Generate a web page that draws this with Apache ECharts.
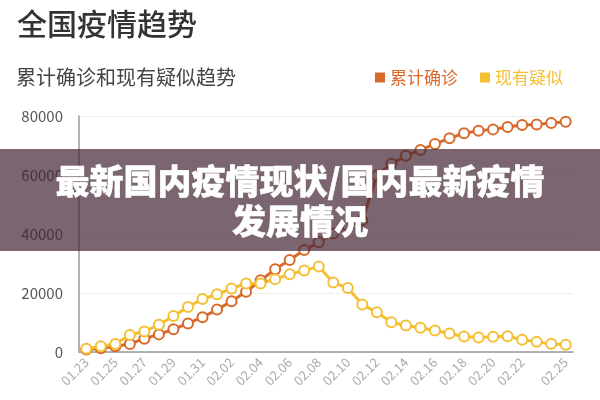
<!DOCTYPE html>
<html>
<head>
<meta charset="utf-8">
<script src="https://cdn.jsdelivr.net/npm/echarts@6/dist/echarts.min.js"></script>
<style>
  html, body { margin: 0; padding: 0; background: #fff; }
  #chart { width: 600px; height: 400px; }
</style>
</head>
<body>
<div id="chart"></div>
<script>
const dates = ['01.23','01.24','01.25','01.26','01.27','01.28','01.29','01.30','01.31',
  '02.01','02.02','02.03','02.04','02.05','02.06','02.07','02.08','02.09','02.10',
  '02.11','02.12','02.13','02.14','02.15','02.16','02.17','02.18','02.19','02.20',
  '02.21','02.22','02.23','02.24','02.25'];
// 累计确诊
const confirmed = [830,1287,1975,2744,4515,5974,7711,9692,11791,14380,17205,20438,
  24324,28018,31161,34546,37198,40171,42638,44653,59804,63851,66492,68500,70548,
  72436,74185,75002,75465,76288,76936,77150,77658,78064];
// 现有疑似
const suspected = [1072,1965,2684,5794,6973,9239,12167,15238,17988,19544,21558,23214,
  23260,24702,26359,27657,28942,23589,21675,16067,13435,10109,8969,8228,7264,6242,
  5248,4922,5206,5365,4148,3434,2824,2491];
const yTicks = [0, 20000, 40000, 60000, 80000];

const orange = '#d9692a';
const yellow = '#f4bf33';
const font = '"Noto Sans CJK SC", "Noto Sans", sans-serif';

const chart = echarts.init(document.getElementById('chart'));

const lineSeries = (name, data, color) => ({
  name,
  type: 'line',
  data,
  symbol: 'circle',
  symbolSize: 10,
  showSymbol: true,
  showAllSymbol: true,
  itemStyle: { color: '#fff', borderColor: color, borderWidth: 2 },
  lineStyle: { color, width: 3 },
  emphasis: { disabled: true }
});

chart.setOption({
  animation: false,
  textStyle: { fontFamily: font },
  title: [
    { text: '全国疫情趋势', left: 12, top: 4,
      textStyle: { fontSize: 30, fontWeight: 500, color: '#333', fontFamily: font } },
    { text: '累计确诊和现有疑似趋势', left: 11, top: 62,
      textStyle: { fontSize: 20, fontWeight: 400, color: '#444', fontFamily: font } }
  ],
  legend: {
    right: 32, top: 64,
    itemWidth: 10, itemHeight: 10, itemGap: 22,
    icon: 'rect',
    textStyle: { fontSize: 17, fontFamily: font },
    data: [
      { name: '累计确诊', itemStyle: { color: orange, borderWidth: 0 }, textStyle: { color: orange } },
      { name: '现有疑似', itemStyle: { color: yellow, borderWidth: 0 }, textStyle: { color: yellow } }
    ]
  },
  grid: { left: 79, right: 27, top: 116, bottom: 48 },
  xAxis: {
    type: 'category',
    data: dates,
    boundaryGap: true,
    axisLine: { lineStyle: { color: '#999', width: 1.5 } },
    axisTick: { show: false },
    axisLabel: {
      rotate: 45, color: '#aaa', fontSize: 13, margin: 8,
      interval: (i) => i === dates.length - 1 || (i % 2 === 0 && i < dates.length - 2)
    }
  },
  yAxis: {
    type: 'value',
    min: yTicks[0], max: yTicks[yTicks.length - 1], interval: 20000,
    axisLine: { show: true, lineStyle: { color: '#999', width: 1.5 } },
    axisTick: { show: false },
    axisLabel: { color: '#555', fontSize: 15, margin: 16, formatter: v => String(v) },
    splitLine: { lineStyle: { color: '#eee' } }
  },
  series: [
    lineSeries('累计确诊', confirmed, orange),
    lineSeries('现有疑似', suspected, yellow)
  ],
  graphic: [
    {
      type: 'rect', z: 100,
      shape: { x: 0, y: 149, width: 600, height: 102 },
      style: { fill: 'rgba(66,35,51,0.7)' }
    },
    {
      type: 'text', z: 101,
      x: 300, y: 201,
      style: {
        text: '最新国内疫情现状/国内最新疫情\n发展情况',
        fill: '#fff',
        font: '900 34px "Noto Sans CJK SC"',
        lineHeight: 40,
        align: 'center',
        verticalAlign: 'middle',
        stroke: '#fff',
        lineWidth: 0.5
      }
    }
  ]
});
</script>
</body>
</html>
